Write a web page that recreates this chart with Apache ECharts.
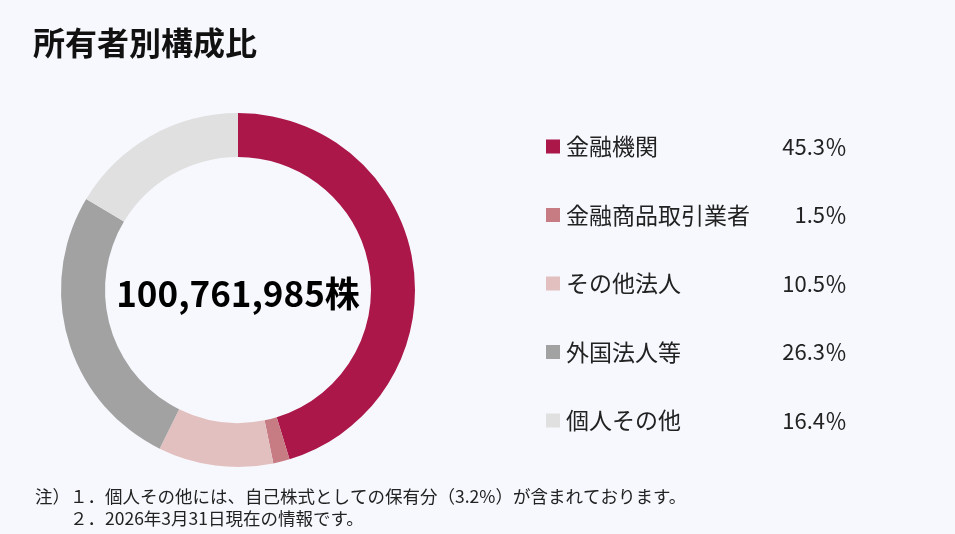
<!DOCTYPE html>
<html>
<head>
<meta charset="utf-8">
<script src="https://cdn.jsdelivr.net/npm/echarts@6/dist/echarts.min.js"></script>
<style>
html,body{margin:0;padding:0;background:#f7f8fd;}
#c{width:955px;height:534px;}
</style>
</head>
<body>
<div id="c"></div>
<script>
const categories = ['金融機関', '金融商品取引業者', 'その他法人', '外国法人等', '個人その他'];
const shares = [45.3, 1.5, 10.5, 26.3, 16.4];
const colors = ['#ab1749', '#c77b83', '#e3c0c0', '#a1a2a1', '#dfe0df'];
const totalShares = '100,761,985株';
const titleText = '所有者別構成比';
const notes = [
  '注）１．個人その他には、自己株式としての保有分（3.2%）が含まれております。',
  '　　２．2026年3月31日現在の情報です。'
];

const FONT = '"Noto Sans CJK JP", "Noto Sans", sans-serif';
const chart = echarts.init(document.getElementById('c'));
const valueOf = {};
categories.forEach((c, i) => valueOf[c] = shares[i]);

chart.setOption({
  backgroundColor: '#f7f8fd',
  animation: false,
  title: [
    { text: titleText, left: 28, top: 22,
      textStyle: { fontFamily: FONT, fontSize: 32, fontWeight: 'bold', color: '#111' } },
    { text: totalShares, left: 233, top: 289, textAlign: 'center', textVerticalAlign: 'middle',
      textStyle: { fontFamily: FONT, fontSize: 35, fontWeight: 'bold', color: '#000' } },
    { text: notes.join('\n'), left: 30, top: 480,
      textStyle: { fontFamily: FONT, fontSize: 17.5, fontWeight: 'normal', color: '#222', lineHeight: 22 } }
  ],
  legend: {
    orient: 'vertical',
    left: 541,
    top: 130,
    itemWidth: 14,
    itemHeight: 14,
    itemGap: 45.5,
    icon: 'rect',
    data: categories,
    formatter: name => '{n|' + name + '}{v|' + valueOf[name].toFixed(1) + '％}',
    textStyle: {
      fontFamily: FONT,
      rich: {
        n: { fontFamily: FONT, fontSize: 23, color: '#222', width: 200, lineHeight: 24, padding: [0, 0, 0, 1] },
        v: { fontFamily: FONT, fontSize: 22, color: '#222', width: 81, align: 'right', lineHeight: 24 }
      }
    }
  },
  series: [{
    type: 'pie',
    center: [238, 290],
    radius: [133, 177],
    startAngle: 90,
    clockwise: true,
    label: { show: false },
    labelLine: { show: false },
    emphasis: { disabled: true },
    data: categories.map((c, i) => ({ name: c, value: shares[i], itemStyle: { color: colors[i] } }))
  }]
});
</script>
</body>
</html>
